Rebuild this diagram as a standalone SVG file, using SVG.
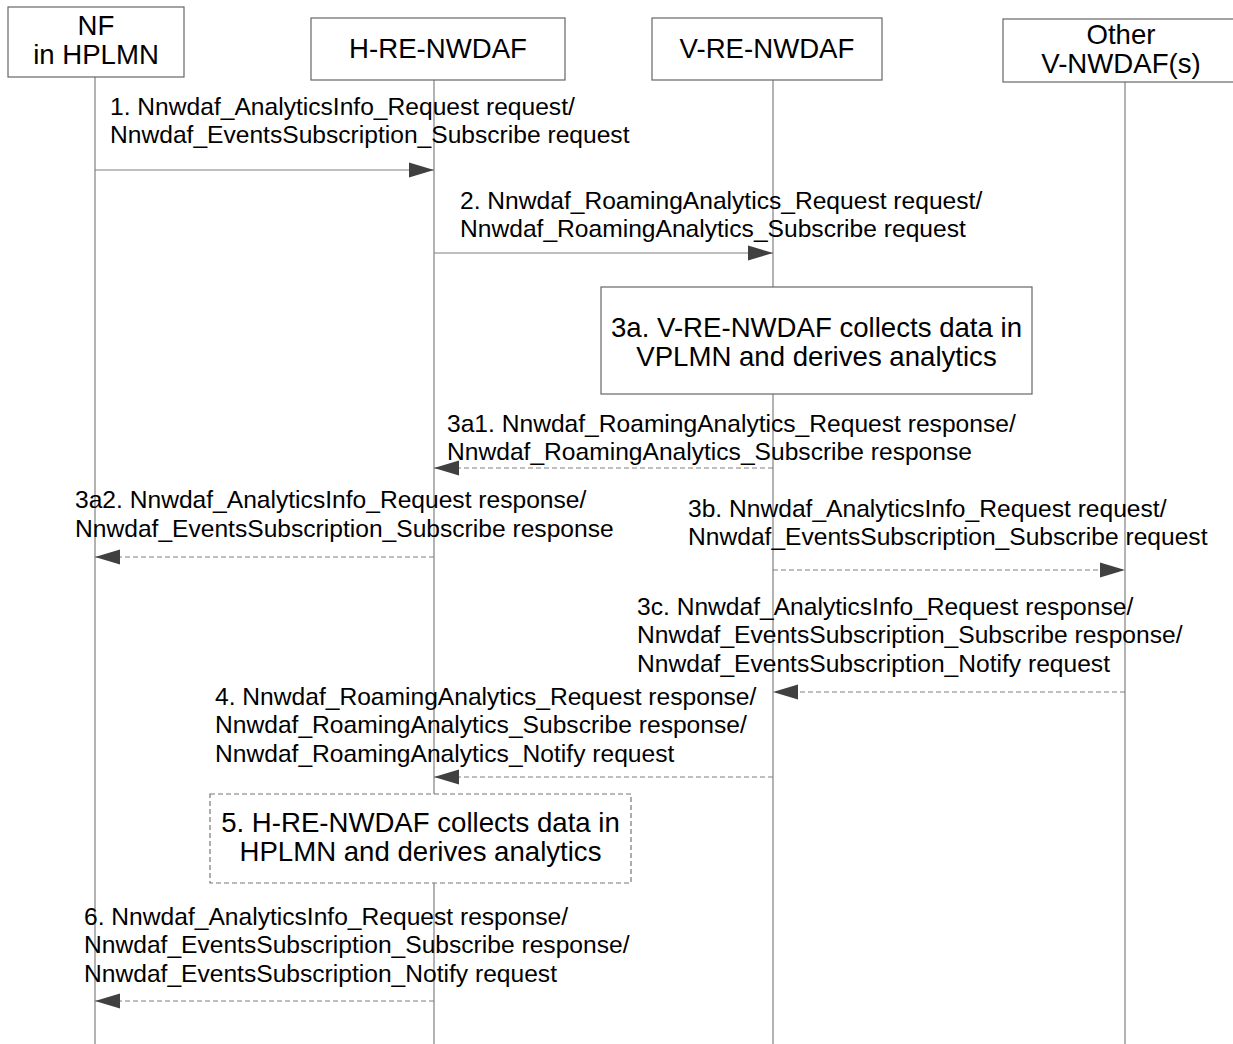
<svg xmlns="http://www.w3.org/2000/svg" width="1233" height="1044" viewBox="0 0 1233 1044">
<style>
.box{fill:#fff;stroke:#666;stroke-width:1.2}
.dbox{fill:#fff;stroke:#777;stroke-width:1.2;stroke-dasharray:5 3}
.life{stroke:#808080;stroke-width:1.2;fill:none}
.msg{stroke:#808080;stroke-width:1.2;fill:none}
.dash{stroke-dasharray:5 3}
.lbl{font-family:"Liberation Sans",Arial,sans-serif;font-size:24.6px;fill:#000}
.blbl{font-family:"Liberation Sans",Arial,sans-serif;font-size:27.6px;fill:#000;text-anchor:middle}
</style>
<defs>
<marker id="ah" markerWidth="25" markerHeight="16" refX="25" refY="8" orient="auto" markerUnits="userSpaceOnUse">
<path d="M0,0.5 L25,8 L0,15.5 Z" fill="#404040"/>
</marker>
</defs>
<rect width="1233" height="1044" fill="#fff"/>
<g id="lifelines">
<line class="life" x1="95" y1="77" x2="95" y2="1044"/>
<line class="life" x1="434" y1="80" x2="434" y2="1044"/>
<line class="life" x1="773" y1="80" x2="773" y2="1044"/>
<line class="life" x1="1125" y1="82" x2="1125" y2="1044"/>
</g>
<g id="nf">
<rect class="box" x="8" y="7" width="176" height="70"/>
<text class="blbl" x="96" y="35">NF</text>
<text class="blbl" x="96" y="64">in HPLMN</text>
</g>
<g id="hre">
<rect class="box" x="311" y="18" width="254" height="62"/>
<text class="blbl" x="438" y="58">H-RE-NWDAF</text>
</g>
<g id="vre">
<rect class="box" x="652" y="18" width="230" height="62"/>
<text class="blbl" x="767" y="58">V-RE-NWDAF</text>
</g>
<g id="other">
<rect class="box" x="1003" y="19" width="240" height="63"/>
<text class="blbl" x="1121" y="44">Other</text>
<text class="blbl" x="1121" y="73">V-NWDAF(s)</text>
</g>
<g id="step3a">
<rect class="box" x="601" y="287" width="431" height="107"/>
<text class="blbl" x="816.5" y="337">3a. V-RE-NWDAF collects data in</text>
<text class="blbl" x="816.5" y="366">VPLMN and derives analytics</text>
</g>
<g id="step5">
<rect class="dbox" x="210" y="794" width="421" height="89"/>
<text class="blbl" x="420.5" y="832">5. H-RE-NWDAF collects data in</text>
<text class="blbl" x="420.5" y="861">HPLMN and derives analytics</text>
</g>
<g id="connectors">
<line class="msg" x1="95" y1="170" x2="434" y2="170" marker-end="url(#ah)"/>
<line class="msg" x1="434" y1="253" x2="773" y2="253" marker-end="url(#ah)"/>
<line class="msg dash" x1="773" y1="468" x2="434" y2="468" marker-end="url(#ah)"/>
<line class="msg dash" x1="434" y1="557" x2="95" y2="557" marker-end="url(#ah)"/>
<line class="msg dash" x1="773" y1="570" x2="1125" y2="570" marker-end="url(#ah)"/>
<line class="msg dash" x1="1125" y1="692" x2="773" y2="692" marker-end="url(#ah)"/>
<line class="msg dash" x1="773" y1="777" x2="434" y2="777" marker-end="url(#ah)"/>
<line class="msg dash" x1="434" y1="1001" x2="95" y2="1001" marker-end="url(#ah)"/>
</g>
<g id="labels">
<text class="lbl" x="110" y="115">1. Nnwdaf_AnalyticsInfo_Request request/</text>
<text class="lbl" x="110" y="143">Nnwdaf_EventsSubscription_Subscribe request</text>
<text class="lbl" x="460" y="209">2. Nnwdaf_RoamingAnalytics_Request request/</text>
<text class="lbl" x="460" y="237">Nnwdaf_RoamingAnalytics_Subscribe request</text>
<text class="lbl" x="447" y="432">3a1. Nnwdaf_RoamingAnalytics_Request response/</text>
<text class="lbl" x="447" y="460">Nnwdaf_RoamingAnalytics_Subscribe response</text>
<text class="lbl" x="75" y="508">3a2. Nnwdaf_AnalyticsInfo_Request response/</text>
<text class="lbl" x="75" y="537">Nnwdaf_EventsSubscription_Subscribe response</text>
<text class="lbl" x="688" y="517">3b. Nnwdaf_AnalyticsInfo_Request request/</text>
<text class="lbl" x="688" y="545">Nnwdaf_EventsSubscription_Subscribe request</text>
<text class="lbl" x="637" y="615">3c. Nnwdaf_AnalyticsInfo_Request response/</text>
<text class="lbl" x="637" y="643">Nnwdaf_EventsSubscription_Subscribe response/</text>
<text class="lbl" x="637" y="672">Nnwdaf_EventsSubscription_Notify request</text>
<text class="lbl" x="215" y="705">4. Nnwdaf_RoamingAnalytics_Request response/</text>
<text class="lbl" x="215" y="733">Nnwdaf_RoamingAnalytics_Subscribe response/</text>
<text class="lbl" x="215" y="762">Nnwdaf_RoamingAnalytics_Notify request</text>
<text class="lbl" x="84" y="925">6. Nnwdaf_AnalyticsInfo_Request response/</text>
<text class="lbl" x="84" y="953">Nnwdaf_EventsSubscription_Subscribe response/</text>
<text class="lbl" x="84" y="982">Nnwdaf_EventsSubscription_Notify request</text>
</g>
</svg>
